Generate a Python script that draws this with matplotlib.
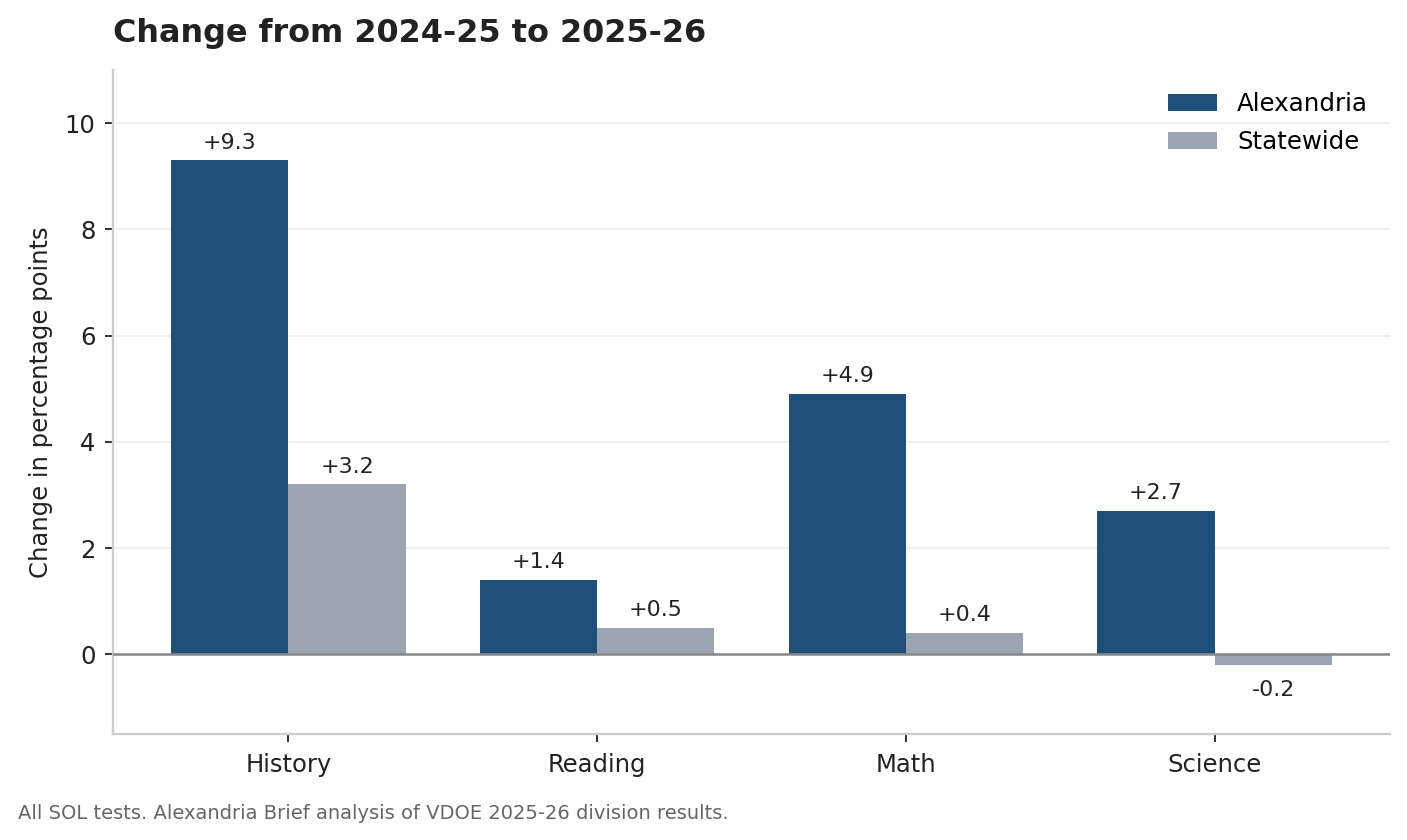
import matplotlib
matplotlib.use("Agg")
import matplotlib.pyplot as plt
import numpy as np

subjects = ["History", "Reading", "Math", "Science"]
alexandria = [9.3, 1.4, 4.9, 2.7]
statewide = [3.2, 0.5, 0.4, -0.2]
series_names = ["Alexandria", "Statewide"]
colors = ["#1f4e79", "#9aa5b1"]

plt.rcParams['font.family'] = ['DejaVu Sans']
fig = plt.figure(figsize=(10.05, 6.0), dpi=140)
ax = fig.add_axes([0.0803, 0.1262, 0.9077, 0.7905])

x = np.arange(len(subjects))
w = 0.38
bars_a = ax.bar(x - w/2, alexandria, w, color=colors[0], label=series_names[0], zorder=3)
bars_s = ax.bar(x + w/2, statewide, w, color=colors[1], label=series_names[1], zorder=3)

for bars in (bars_a, bars_s):
    for b in bars:
        v = b.get_height()
        if v >= 0:
            ax.annotate(f"{v:+.1f}", (b.get_x() + b.get_width()/2, v), xytext=(0, 4),
                        textcoords="offset points", ha="center", va="bottom",
                        fontsize=11.4, color="#222222")
        else:
            ax.annotate(f"{v:.1f}", (b.get_x() + b.get_width()/2, v), xytext=(0, -7.5),
                        textcoords="offset points", ha="center", va="top",
                        fontsize=11.4, color="#222222")

ax.axhline(0, color="#888888", linewidth=1.3, zorder=4)
ax.set_ylim(-1.5, 11)
ax.set_yticks([0, 2, 4, 6, 8, 10])
ax.set_xticks(x)
ax.set_xticklabels(subjects)
ax.tick_params(axis='both', labelsize=12.5, labelcolor="#222222", length=4, width=1, color="#333333")
ax.tick_params(axis='x', pad=6)
ax.tick_params(axis='y', pad=5)
ax.grid(axis='y', color="#eeeeee", linewidth=1, zorder=0)
ax.set_axisbelow(True)
for s in ("top", "right"):
    ax.spines[s].set_visible(False)
for s in ("left", "bottom"):
    ax.spines[s].set_color("#cccccc")
    ax.spines[s].set_linewidth(1.2)

ax.set_ylabel("Change in percentage points", fontsize=12.5, color="#222222", labelpad=6)
ax.set_title("Change from 2024-25 to 2025-26", loc="left", fontsize=16.4,
             fontweight="bold", color="#222222", pad=14.5)
leg = ax.legend(loc="upper right", frameon=False, fontsize=12.6,
                bbox_to_anchor=(1.0, 1.0), labelspacing=0.58)
fig.text(0.0128, 0.032, "All SOL tests. Alexandria Brief analysis of VDOE 2025-26 division results.",
         fontsize=10.05, color="#666666", ha="left", va="center")

fig.savefig("out.png", dpi=140)
